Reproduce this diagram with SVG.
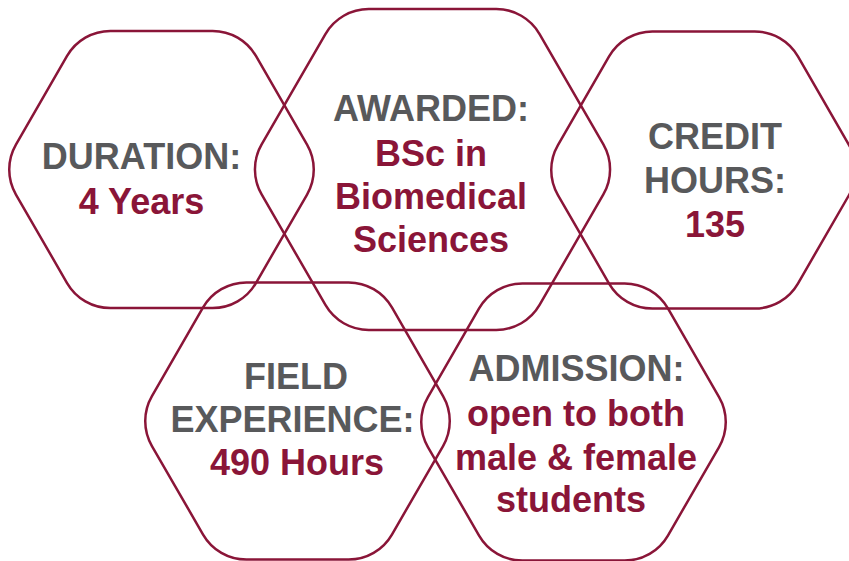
<svg xmlns="http://www.w3.org/2000/svg" width="849" height="561" viewBox="0 0 849 561">
<defs>
<style>
.hex{fill:none;stroke:#8a1538;stroke-width:2.5}
text{font-family:"Liberation Sans",Arial,sans-serif;font-weight:bold;font-size:36px;text-anchor:middle}
.g{fill:#58595b}
.m{fill:#8a1538}
</style>
<path id="hs" d="M-51.13 -138.56h102.26a50 50 0 0 1 43.3 25l51.13 88.56a50 50 0 0 1 0 50l-51.13 88.56a50 50 0 0 1 -43.3 25h-102.26a50 50 0 0 1 -43.3 -25l-51.13 -88.56a50 50 0 0 1 0 -50l51.13 -88.56a50 50 0 0 1 43.3 -25z"/>
<path id="hb" d="M-63.78 -160.48h127.56a50 50 0 0 1 43.3 25l63.78 110.47a50 50 0 0 1 0 50l-63.78 110.47a50 50 0 0 1 -43.3 25h-127.56a50 50 0 0 1 -43.3 -25l-63.78 -110.47a50 50 0 0 1 0 -50l63.78 -110.47a50 50 0 0 1 43.3 -25z"/>
</defs>
<rect width="849" height="561" fill="#ffffff"/>
<g id="duration">
<use href="#hs" class="hex" x="161.5" y="169.5"/>
<text x="141.5" y="169" class="g">DURATION:</text>
<text x="141.5" y="214" class="m">4 Years</text>
</g>
<g id="awarded">
<use href="#hb" class="hex" x="432.5" y="169.5"/>
<text x="431" y="121" class="g">AWARDED:</text>
<text x="431" y="166" class="m">BSc in</text>
<text x="431" y="209" class="m">Biomedical</text>
<text x="431" y="252" class="m">Sciences</text>
</g>
<g id="credit">
<use href="#hs" class="hex" x="703.5" y="170"/>
<text x="715" y="149" class="g">CREDIT</text>
<text x="715" y="193" class="g">HOURS:</text>
<text x="715" y="237" class="m">135</text>
</g>
<g id="field">
<use href="#hs" class="hex" x="297.5" y="421"/>
<text x="296" y="389" class="g">FIELD</text>
<text x="292.5" y="432" class="g">EXPERIENCE:</text>
<text x="297" y="475" class="m">490 Hours</text>
</g>
<g id="admission">
<use href="#hs" class="hex" x="573.5" y="422"/>
<text x="576.5" y="381" class="g">ADMISSION:</text>
<text x="576" y="426" class="m">open to both</text>
<text x="576" y="470" class="m">male &amp; female</text>
<text x="571" y="512" class="m">students</text>
</g>
<g id="connectors"/>
</svg>
